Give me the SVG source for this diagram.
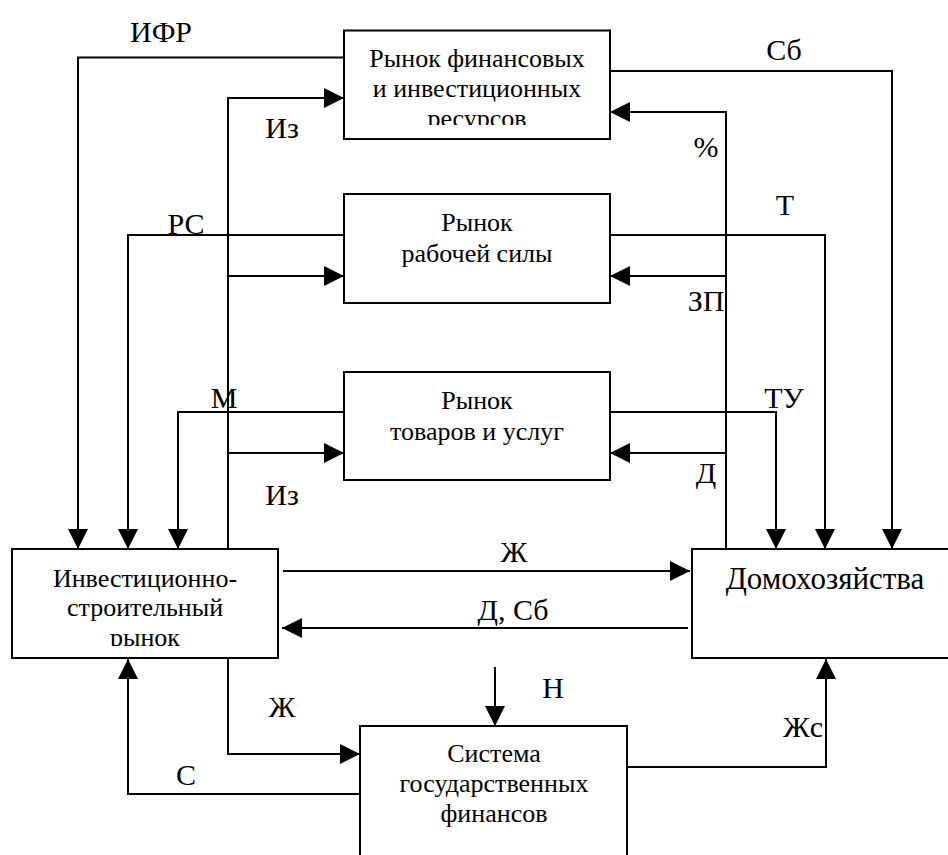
<svg xmlns="http://www.w3.org/2000/svg" width="948" height="855" viewBox="0 0 948 855">
<style>
  .box { fill: #ffffff; stroke: #000000; stroke-width: 2; }
  .bt { font-size: 26px; }
  .big { font-size: 31px; }
  .lbl { font-size: 30px; }
  .con { fill: none; stroke: #000000; stroke-width: 2; }
  .arr { marker-end: url(#ah); }
</style>
<defs>
  <marker id="ah" markerUnits="userSpaceOnUse" markerWidth="20" markerHeight="20" refX="20" refY="10" orient="auto">
    <path d="M0,0 L20,10 L0,20 z" fill="#000000"/>
  </marker>
  <clipPath id="clipFin"><rect x="344" y="30" width="266" height="95"/></clipPath>
  <clipPath id="clipInv"><rect x="12" y="549" width="266" height="97"/></clipPath>
</defs>
<rect x="0" y="0" width="948" height="855" fill="#ffffff"/>

<g id="connectors">
  <path class="con arr" d="M344,57.5 H78 V549"/>
  <path class="con arr" d="M228,549 V98 H344"/>
  <path class="con arr" d="M228,276 H344"/>
  <path class="con arr" d="M228,453 H344"/>
  <path class="con arr" d="M344,235 H128 V549"/>
  <path class="con arr" d="M344,412 H178 V549"/>
  <path class="con arr" d="M610,71 H892 V549"/>
  <path class="con arr" d="M726,549 V112 H610"/>
  <path class="con arr" d="M726,276 H610"/>
  <path class="con arr" d="M726,453 H610"/>
  <path class="con arr" d="M610,235 H825 V549"/>
  <path class="con arr" d="M610,412 H776 V549"/>
  <path class="con arr" d="M283,571 H690"/>
  <path class="con arr" d="M688,628 H282"/>
  <path class="con arr" d="M495,667 V726"/>
  <path class="con arr" d="M228,658 V754 H360"/>
  <path class="con arr" d="M360,794 H128 V659"/>
  <path class="con arr" d="M627,767 H826 V659"/>
</g>

<g id="labels" font-family="Liberation Serif, Times New Roman, serif" text-anchor="middle" fill="#000000">
  <text class="lbl" x="161" y="42">ИФР</text>
  <text class="lbl" x="282" y="138">Из</text>
  <text class="lbl" x="784" y="60">Сб</text>
  <text class="lbl" x="706" y="157">%</text>
  <text class="lbl" x="186" y="234">РС</text>
  <text class="lbl" x="785" y="215">Т</text>
  <text class="lbl" x="706" y="311">ЗП</text>
  <text class="lbl" x="224" y="408">М</text>
  <text class="lbl" x="784" y="408">ТУ</text>
  <text class="lbl" x="282" y="505">Из</text>
  <text class="lbl" x="706" y="483">Д</text>
  <text class="lbl" x="514" y="562">Ж</text>
  <text class="lbl" x="513" y="620">Д, Сб</text>
  <text class="lbl" x="553" y="698">Н</text>
  <text class="lbl" x="282" y="717">Ж</text>
  <text class="lbl" x="186" y="785">С</text>
  <text class="lbl" x="803" y="737">Жс</text>
</g>

<g id="node-fin" font-family="Liberation Serif, Times New Roman, serif" text-anchor="middle" fill="#000000">
  <rect class="box" x="344" y="30.5" width="266" height="108.5"/>
  <g clip-path="url(#clipFin)">
    <text class="bt" x="477" y="67">Рынок финансовых</text>
    <text class="bt" x="477" y="97">и инвестиционных</text>
    <text class="bt" x="477" y="127">ресурсов</text>
  </g>
</g>

<g id="node-labor" font-family="Liberation Serif, Times New Roman, serif" text-anchor="middle" fill="#000000">
  <rect class="box" x="344" y="194" width="266" height="109"/>
  <text class="bt" x="477" y="231">Рынок</text>
  <text class="bt" x="477" y="262">рабочей силы</text>
</g>

<g id="node-goods" font-family="Liberation Serif, Times New Roman, serif" text-anchor="middle" fill="#000000">
  <rect class="box" x="344" y="372" width="266" height="108"/>
  <text class="bt" x="477" y="409">Рынок</text>
  <text class="bt" x="477" y="440">товаров и услуг</text>
</g>

<g id="node-invest" font-family="Liberation Serif, Times New Roman, serif" text-anchor="middle" fill="#000000">
  <rect class="box" x="12" y="549" width="266" height="109"/>
  <g clip-path="url(#clipInv)">
    <text class="bt" x="145" y="587">Инвестиционно-</text>
    <text class="bt" x="145" y="616">строительный</text>
    <text class="bt" x="145" y="646">рынок</text>
  </g>
</g>

<g id="node-house" font-family="Liberation Serif, Times New Roman, serif" text-anchor="middle" fill="#000000">
  <rect class="box" x="692" y="549" width="270" height="109"/>
  <text class="big" x="825" y="589">Домохозяйства</text>
</g>

<g id="node-gov" font-family="Liberation Serif, Times New Roman, serif" text-anchor="middle" fill="#000000">
  <rect class="box" x="360" y="726" width="267" height="140"/>
  <text class="bt" x="494" y="762">Система</text>
  <text class="bt" x="494" y="792">государственных</text>
  <text class="bt" x="494" y="822">финансов</text>
</g>
</svg>
